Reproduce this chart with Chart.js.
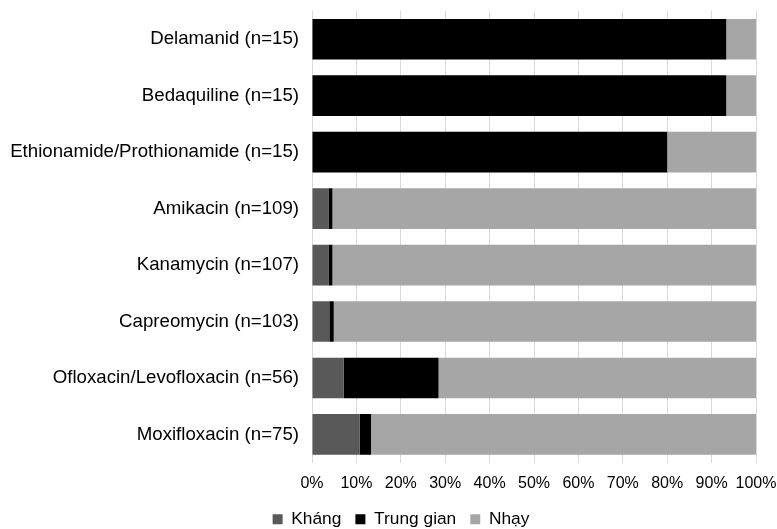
<!DOCTYPE html>
<html>
<head>
<meta charset="utf-8">
<script src="https://cdn.jsdelivr.net/npm/chart.js@4"></script>
<style>
  html, body { margin: 0; padding: 0; background: #fff; }
  #wrap { width: 777px; height: 529px; }
</style>
</head>
<body>
<div id="wrap"><canvas id="grafico"></canvas></div>
<script>
const categorias = [
  'Delamanid (n=15)',
  'Bedaquiline (n=15)',
  'Ethionamide/Prothionamide (n=15)',
  'Amikacin (n=109)',
  'Kanamycin (n=107)',
  'Capreomycin (n=103)',
  'Ofloxacin/Levofloxacin (n=56)',
  'Moxifloxacin (n=75)'
];
// percentages
const khang = [0, 0, 0, 3.7, 3.7, 3.9, 7.1, 10.7];
const trungGian = [93.3, 93.3, 80, 0.9, 0.9, 1.0, 21.4, 2.6];
const nhay = [6.7, 6.7, 20, 95.4, 95.4, 95.1, 71.5, 86.7];

document.addEventListener('DOMContentLoaded', function() {
  const ctx = document.getElementById('grafico').getContext('2d');
  Chart.defaults.font.family = '"Liberation Sans", Arial, sans-serif';
  Chart.defaults.font.size = 18.67;
  Chart.defaults.color = '#000';

  // nudge the legend a bit to the right, like the original
  const moverLegenda = {
    id: 'moverLegenda',
    afterLayout(chart) {
      if (chart.legend) chart.legend.left += 36;
    }
  };

  new Chart(ctx, {
    type: 'bar',
    data: {
      labels: categorias,
      datasets: [
        { label: 'Kháng', data: khang, backgroundColor: '#595959' },
        { label: 'Trung gian', data: trungGian, backgroundColor: '#000000' },
        { label: 'Nhạy', data: nhay, backgroundColor: '#a6a6a6' }
      ]
    },
    plugins: [moverLegenda],
    options: {
      indexAxis: 'y',
      responsive: true,
      maintainAspectRatio: false,
      animation: false,
      layout: { padding: { top: 11, right: 21, left: 10, bottom: -9 } },
      datasets: {
        bar: { categoryPercentage: 0.72, barPercentage: 1.0 }
      },
      scales: {
        x: {
          stacked: true,
          min: 0,
          max: 100,
          afterFit: scale => {
            scale.height = 34;
            scale.paddingLeft = 0;
            scale.paddingRight = 0;
          },
          ticks: {
            stepSize: 10,
            padding: 11,
            maxRotation: 0,
            autoSkip: false,
            font: { size: 16 },
            callback: v => v + '%'
          },
          grid: { color: '#d9d9d9', drawTicks: false },
          border: { display: false }
        },
        y: {
          stacked: true,
          afterFit: scale => {
            scale.width = 302;
            scale.paddingTop = 0;
            scale.paddingBottom = 0;
          },
          ticks: { padding: 13 },
          grid: { display: false, drawTicks: false },
          border: { display: true, color: '#d9d9d9' }
        }
      },
      plugins: {
        legend: {
          position: 'bottom',
          labels: {
            font: { size: 17.33 },
            boxWidth: 10,
            boxHeight: 10,
            padding: 14,
            useBorderRadius: false
          }
        },
        tooltip: { enabled: false }
      }
    }
  });
});
</script>
</body>
</html>
